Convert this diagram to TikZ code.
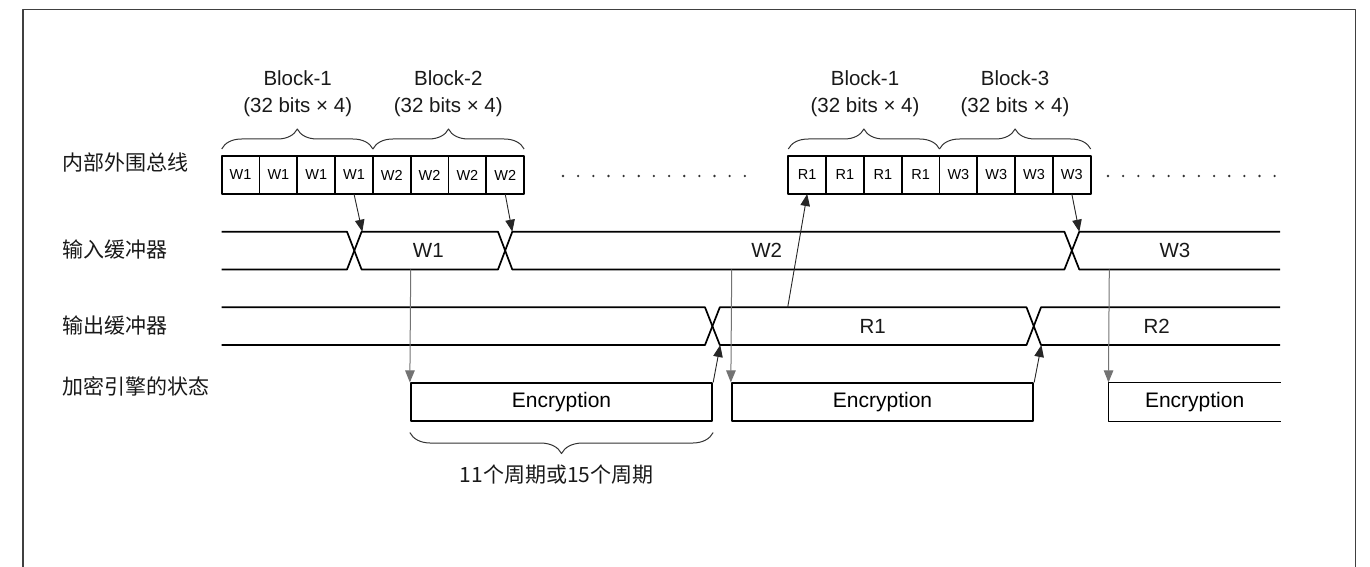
\documentclass[tikz,border=0pt]{standalone}
\usepackage{fontspec}
\setmainfont{Liberation Sans}
\newfontfamily\cjkfont{Noto Sans CJK SC}
\usetikzlibrary{arrows.meta,positioning,decorations.pathreplacing}

\begin{document}
\begin{tikzpicture}[x=1pt,y=-1pt,line join=round,>={Triangle[length=12pt,width=9.5pt]}]
\tikzset{
  sig/.style={line width=1.7pt,black},
  cell/.style={draw,line width=1.7pt,minimum width=37.8pt,minimum height=38pt,inner sep=0pt,outer sep=0pt,font=\fontsize{14.5}{17}\selectfont},
  encbox/.style={line width=1.7pt,minimum width=301.6pt,minimum height=37.4pt,inner sep=0pt,font=\fontsize{21}{24}\selectfont},
  lbl/.style={font=\fontsize{20.5}{27}\selectfont,inner sep=0pt,text=black!90},
  rowlbl/.style={font=\cjkfont\fontsize{21}{24}\selectfont,anchor=west,inner sep=0pt,text=black!90},
  bracestyle/.style={decorate,decoration={brace,amplitude=20pt,raise=7pt},line width=1pt,black!80},
  busarrow/.style={->,line width=0.9pt,black!85},
  grayarrow/.style={->,line width=1pt,black!55}
}
\useasboundingbox (0,0) rectangle (1370,567);
\draw[line width=1.6pt,black!75] (23,567)--(23,9.5)--(1355.5,9.5)--(1355.5,567);
% row labels
\node[rowlbl] (lbus) at (62,162.5) {内部外围总线};
\node[rowlbl] (lin) at (62,250) {输入缓冲器};
\node[rowlbl] (lout) at (62,326) {输出缓冲器};
\node[rowlbl] (lenc) at (62,386.7) {加密引擎的状态};
% bus words
\foreach \t [count=\i] in {W1,W1,W1,W1,W2,W2,W2,W2}
  \node[cell] (ba\i) at ({221.7+37.8*(\i-0.5)},175) {\t};
\foreach \t [count=\i] in {R1,R1,R1,R1,W3,W3,W3,W3}
  \node[cell] (bb\i) at ({788.3+37.8*(\i-0.5)},175) {\t};
\foreach \k in {0,...,12} \fill[black!80] ({563+15.15*\k},176) circle (1.3pt);
\foreach \k in {0,...,11} \fill[black!80] ({1108+15.15*\k},176) circle (1.3pt);
\draw[bracestyle] (ba1.north west)--(ba4.north east);
\draw[bracestyle] (ba5.north west)--(ba8.north east);
\draw[bracestyle] (bb1.north west)--(bb4.north east);
\draw[bracestyle] (bb5.north west)--(bb8.north east);
\node[lbl,align=center] (blk1) at (297.7,93.5) {Block-1\\(32 bits × 4)};
\node[lbl,align=center] (blk2) at (448.3,93.5) {Block-2\\(32 bits × 4)};
\node[lbl,align=center] (blk3) at (865,93.5) {Block-1\\(32 bits × 4)};
\node[lbl,align=center] (blk4) at (1015,93.5) {Block-3\\(32 bits × 4)};
% input buffer
\draw[sig] (221.7,231.7)--(347,231.7)--(361.6,269.5)--(498,269.5)--(512.3,231.7)--(1064.4,231.7)--(1079.3,269.5)--(1280,269.5);
\draw[sig] (221.7,269.5)--(347,269.5)--(361.6,231.7)--(498,231.7)--(512.3,269.5)--(1064.4,269.5)--(1079.3,231.7)--(1280,231.7);
\node[lbl] (iw1) at (428.3,250.5) {W1};
\node[lbl] (iw2) at (766.7,250.5) {W2};
\node[lbl] (iw3) at (1175,250.5) {W3};
% output buffer
\draw[sig] (221.7,307.3)--(705,307.3)--(719.8,345)--(1026.5,345)--(1041,307.3)--(1280,307.3);
\draw[sig] (221.7,345)--(705,345)--(719.8,307.3)--(1026.5,307.3)--(1041,345)--(1280,345);
\node[lbl] (or1) at (872.7,326) {R1};
\node[lbl] (or2) at (1156.7,326.5) {R2};
% engine
\node[encbox,draw] (enc1) at (561.5,402) {Encryption};
\node[encbox,draw] (enc2) at (882.5,402) {Encryption};
\node[encbox,minimum width=170.7pt] (enc3) at (1194.65,402) {Encryption};
\draw[sig] (enc3.north east)--(enc3.north west)--(enc3.south west)--(enc3.south east);
\draw[bracestyle,decoration={amplitude=21pt,raise=11pt}] (enc1.south east)--(enc1.south west);
\node[rowlbl,anchor=center] (cyc) at (556.7,475) {11个周期或15个周期};
% arrows
\coordinate (x1) at (362.3,231.7);
\coordinate (x2) at (512.3,231.7);
\coordinate (x3) at (1079.3,231.7);
\coordinate (ib1) at (410.7,269.5);
\coordinate (ib2) at (731.7,269.5);
\coordinate (ib3) at (1109.3,269.5);
\coordinate (ot1) at (787.7,307.3);
\coordinate (ox1) at (720.2,345);
\coordinate (ox2) at (1041.4,345);
\draw[busarrow] (ba4.south)--(x1);
\draw[busarrow] (ba8.south)--(x2);
\draw[busarrow] (bb8.south)--(x3);
\draw[busarrow] (ot1)--(bb1.south);
\draw[grayarrow] (ib1)--(enc1.north west);
\draw[grayarrow] (ib2)--(enc2.north west);
\draw[grayarrow] (ib3)--(enc3.north west);
\draw[busarrow] (enc1.north east)--(ox1);
\draw[busarrow] (enc2.north east)--(ox2);
\end{tikzpicture}
\end{document}
